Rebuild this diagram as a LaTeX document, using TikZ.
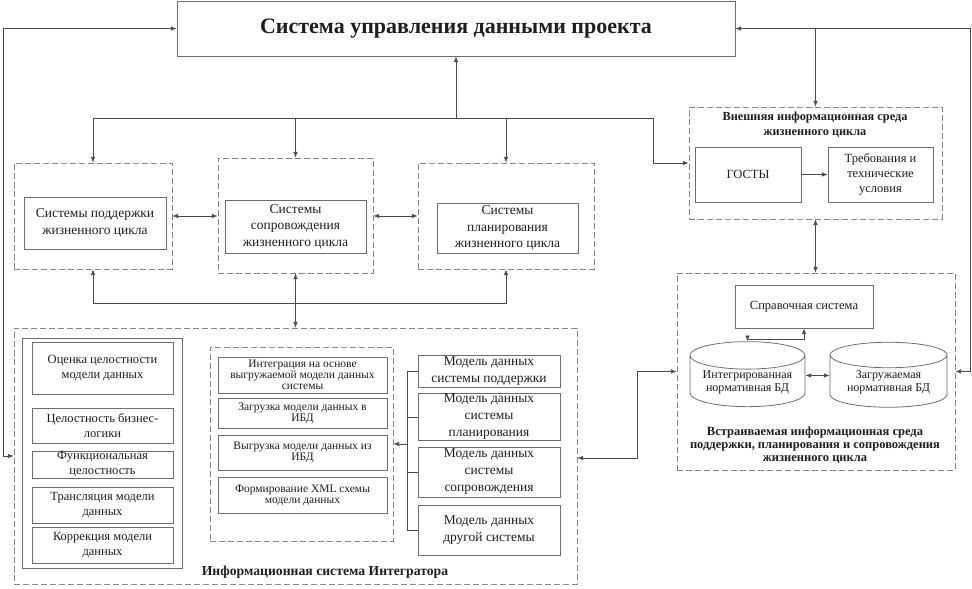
\documentclass[tikz,border=0pt]{standalone}
\usepackage{fontspec}
\setmainfont{Liberation Serif}
\usetikzlibrary{arrows.meta,calc,positioning,shapes.geometric}
\definecolor{ink}{HTML}{1E1E1E}
\definecolor{wire}{HTML}{4A4A4A}
\definecolor{frame}{HTML}{6E6E6E}
\definecolor{dashgray}{HTML}{858585}
\tikzset{
  >={Latex[length=2mm,width=1.6mm]},
  flow/.style={->,draw=wire,line width=.8pt},
  biflow/.style={<->,draw=wire,line width=.8pt},
  wireline/.style={draw=wire,line width=.8pt},
  wh/.style 2 args={minimum width=#1,minimum height=#2},
  base/.style={draw=frame,line width=.8pt,align=center,inner sep=1pt,text=ink},
  sysbox/.style={base,font=\fontsize{13.5}{16.5}\selectfont},
  smallbox/.style={base,font=\fontsize{12.5}{15}\selectfont},
  tinybox/.style={base,font=\fontsize{11.5}{11}\selectfont},
  modelbox/.style={base,font=\fontsize{13.5}{17}\selectfont},
  group/.style={draw=dashgray,line width=.8pt,dash pattern=on 6pt off 3pt},
  caption/.style={align=center,text=ink,font=\bfseries\fontsize{12.3}{15}\selectfont},
  db/.style={base,cylinder,shape border rotate=90,aspect=.3,font=\fontsize{12}{13}\selectfont}
}
\begin{document}
\begin{tikzpicture}[x=1pt,y=-1pt]
  \useasboundingbox (0,0) rectangle (972,589);
  % top system
  \node[base,wh={558}{55},font=\bfseries\fontsize{22}{26}\selectfont] (title) at (456,28.5) {Система управления данными проекта};
  % life cycle systems
  \node[group,wh={158}{106}] (d1) at (93,216) {};
  \node[sysbox,wh={142}{52}] (b1) at (95,223) {Системы поддержки\\жизненного цикла};
  \node[group,wh={155}{115}] (d2) at (295.5,215.5) {};
  \node[sysbox,wh={141}{53}] (b2) at (295.5,226.5) {Системы\\сопровождения\\жизненного цикла};
  \node[group,wh={176}{106}] (d3) at (506,216) {};
  \node[sysbox,wh={141}{50}] (b3) at (507.5,228) {Системы\\планирования\\жизненного цикла};
  % external environment
  \node[group,wh={253}{112}] (ext) at (815.5,163) {};
  \node[caption] (extlab) at (815,125) {Внешняя информационная среда\\жизненного цикла};
  \node[smallbox,wh={106}{55}] (gost) at (748,174.5) {ГОСТЫ};
  \node[smallbox,wh={105}{55}] (req) at (880.5,174.5) {Требования и\\технические\\условия};
  % embedded environment
  \node[group,wh={278}{197}] (emb) at (816,371.5) {};
  \node[smallbox,wh={138}{43}] (ref) at (804,306.5) {Справочная система};
  \node[db,minimum width=115,minimum height=65] (cyl1) at (747.5,382.5) {Интегрированная\\нормативная БД};
  \node[db,minimum width=117,minimum height=65] (cyl2) at (888.5,382.5) {Загружаемая\\нормативная БД};
  \node[caption,font=\bfseries\fontsize{12.5}{13}\selectfont] (emblab) at (815,445) {Встраиваемая информационная среда\\поддержки, планирования и сопровождения\\жизненного цикла};
  % integrator
  \node[group,wh={563}{256}] (integ) at (295.5,456) {};
  \node[caption,font=\bfseries\fontsize{13.7}{15}\selectfont] (integlab) at (325,572) {Информационная система Интегратора};
  \node[base,wh={160}{230}] (chk) at (102,453) {};
  \node[smallbox,wh={141}{52}] (l1) at (102.5,368) {Оценка целостности\\модели данных};
  \node[smallbox,wh={141}{35}] (l2) at (102.5,425.5) {Целостность бизнес-\\логики};
  \node[smallbox,wh={141}{27},inner sep=0pt] (l3) at (102.5,464.5) {Функциональная\\целостность};
  \node[smallbox,wh={141}{36}] (l4) at (102.5,505) {Трансляция модели\\данных};
  \node[smallbox,wh={141}{36}] (l5) at (102.5,545) {Коррекция модели\\данных};
  \node[group,wh={183}{194}] (mid) at (301.5,444) {};
  \node[tinybox,wh={169}{36}] (m1) at (302.5,375) {Интеграция на основе\\выгружаемой модели данных\\системы};
  \node[tinybox,wh={169}{30}] (m2) at (302.5,413) {Загрузка модели данных в\\ИБД};
  \node[tinybox,wh={169}{35}] (m3) at (302.5,452.5) {Выгрузка модели данных из\\ИБД};
  \node[tinybox,wh={169}{36}] (m4) at (302.5,495) {Формирование XML схемы\\модели данных};
  \node[modelbox,wh={142}{32}] (r1) at (489,371) {Модель данных\\системы поддержки};
  \node[modelbox,wh={142}{46}] (r2) at (489,417) {Модель данных\\системы\\планирования};
  \node[modelbox,wh={142}{50}] (r3) at (489,472) {Модель данных\\системы\\сопровождения};
  \node[modelbox,wh={142}{50}] (r4) at (489,530) {Модель данных\\другой системы};
  % helper points
  \coordinate (lft) at (3,0);
  \coordinate (rgt) at (970,0);
  \coordinate (bus) at (0,118);
  \coordinate (bend) at (653,118);
  \coordinate (bus2) at (0,303);
  \coordinate (jx) at (637,458);
  \coordinate (br) at (407,0);
  % connectors
  \draw[biflow] (title.west) -| (lft |- integ.west) -- (integ.west);
  \draw[biflow] (title.east) -| (rgt |- emb.east) -- (emb.east);
  \draw[flow] (title.east -| ext.north) -- (ext.north);
  \draw[flow] (title.south |- bus) -- (title.south);
  \draw[biflow] (d1.north) -- (d1.north |- bus) -- (bend) |- (ext.west);
  \draw[flow] (d2.north |- bus) -- (d2.north);
  \draw[flow] (d3.north |- bus) -- (d3.north);
  \draw[biflow] (d1.east) -- (d1.east -| d2.west);
  \draw[biflow] (d3.west -| d2.east) -- (d3.west);
  \draw[biflow] (d1.south) -- (d1.south |- bus2) -- (d3.south |- bus2) -- (d3.south);
  \draw[biflow] (d2.south) -- (integ.north -| d2.south);
  \draw[flow] (gost) -- (req);
  \draw[biflow] (ext.south) -- (emb.north -| ext.south);
  \draw[biflow] (ref.south) -- ++(0,11) -| (cyl1.north);
  \draw[biflow] ([yshift=7]cyl1.east) -- ([yshift=7]cyl2.west);
  \draw[biflow] (integ.east |- jx) -- (jx) |- (emb.west);
  \draw[wireline] (r1.west) -- (r1.west -| br) -- (r4.west -| br) -- (r4.west);
  \draw[wireline] (r2.west -| br) -- (r2.west);
  \draw[wireline] (r3.west -| br) -- (r3.west);
  \draw[flow] (mid.east -| br) -- (mid.east);
\end{tikzpicture}
\end{document}
